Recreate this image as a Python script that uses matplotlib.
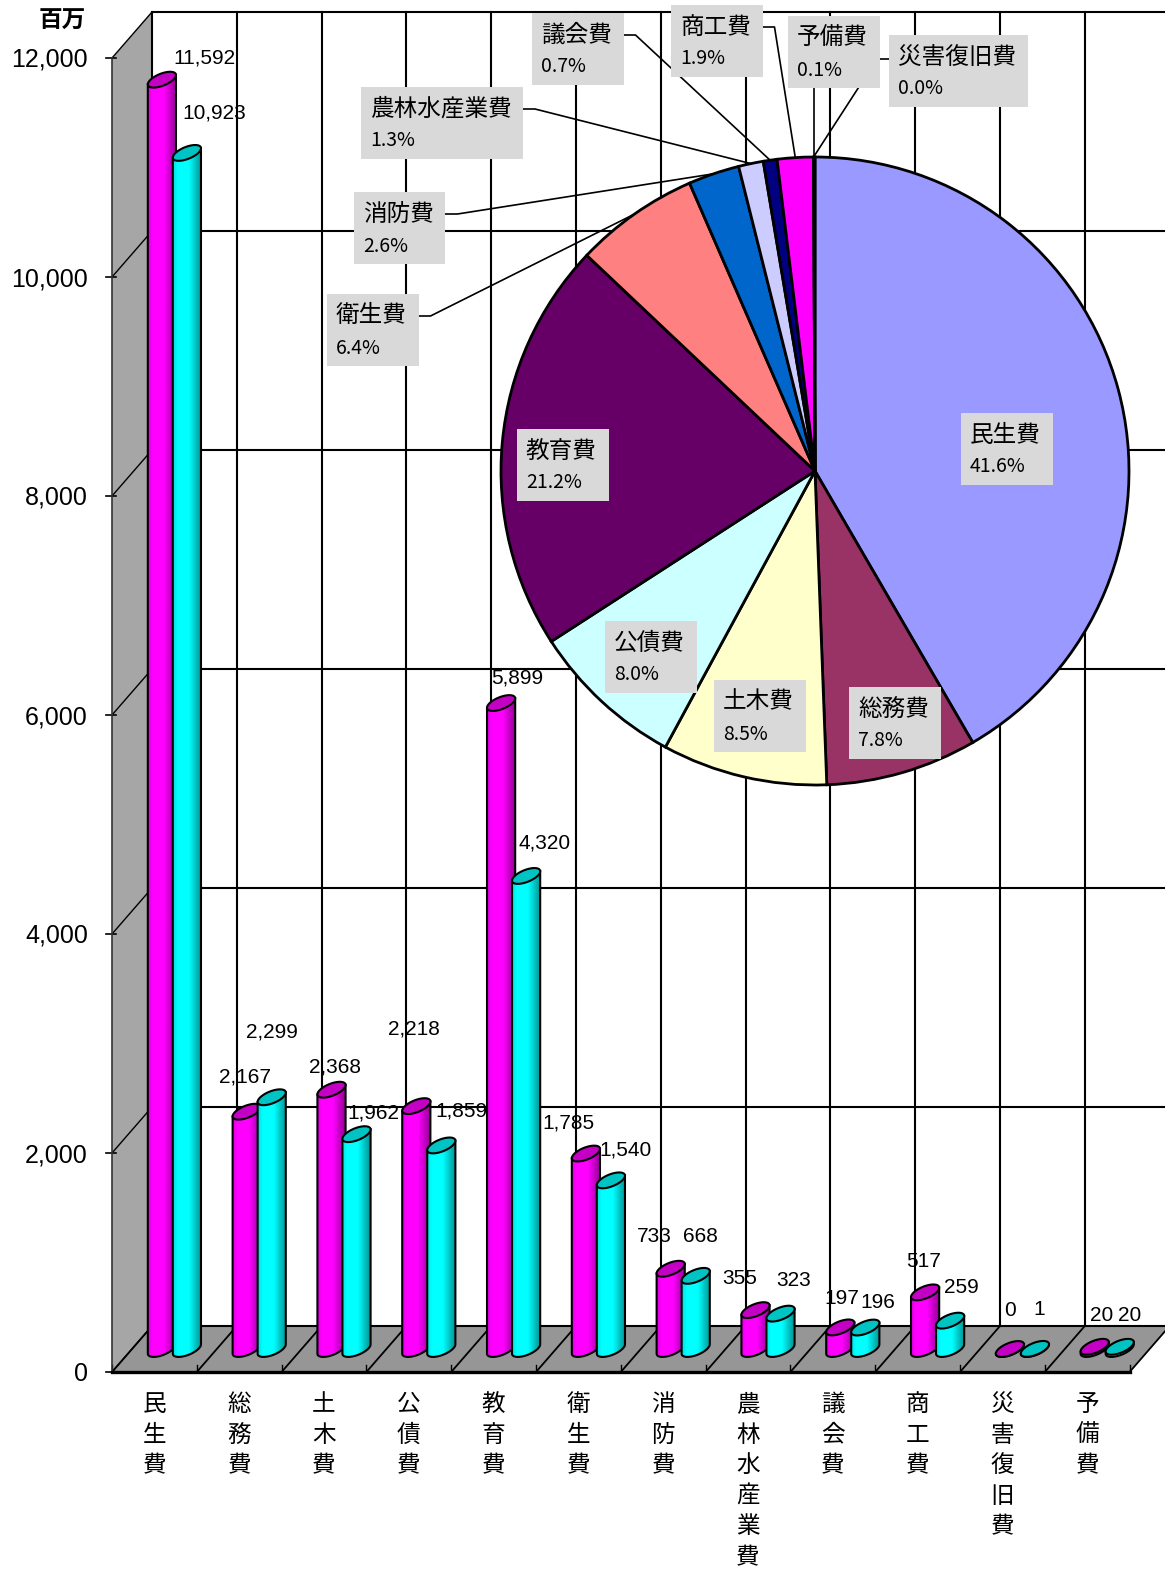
import numpy as np
import matplotlib
matplotlib.use('Agg')
import matplotlib.pyplot as plt
from matplotlib.patches import Polygon, Rectangle
from matplotlib.colors import LinearSegmentedColormap

plt.rcParams['font.family'] = ['Noto Sans CJK JP', 'DejaVu Sans']

# data
categories = ['民生費', '総務費', '土木費', '公債費', '教育費', '衛生費',
              '消防費', '農林水産業費', '議会費', '商工費', '災害復旧費', '予備費']
series_a = [11592, 2167, 2368, 2218, 5899, 1785, 733, 355, 197, 517, 0, 20]
series_b = [10923, 2299, 1962, 1859, 4320, 1540, 668, 323, 196, 259, 1, 20]
y_ticks = [0, 2000, 4000, 6000, 8000, 10000, 12000]
pie_colors = ['#9999ff', '#993366', '#ffffcc', '#ccffff', '#660066', '#ff8080',
              '#0066cc', '#ccccff', '#000080', '#ff00ff', '#ffff00', '#00ffff']

# layout (pixels of the 1165x1573 canvas)
W, H = 1165, 1573
X0, SLOT = 112, 84.8          # front-left corner, px per category
Y0 = 1372                     # front floor line
PXV = (Y0 - 58) / 12000       # px per unit
DEP_X, DEP_Y = 40, 46         # depth shift of back wall
EA, EB, TILT = 15, 6, 22      # cylinder top ellipse
BAR_SHIFT = 12.5

# value label offsets (px, right / down)
off_a = [(43, -22), (-2, -35), (4, -23), (-2, -77), (16, -25), (-17, -31),
         (-16, -32), (-16, -32), (2, -29), (-2, -31), (0, -39), (7, -31)]
off_b = [(27, -40), (0, -65), (17, -21), (20, -34), (18, -33), (15, -30),
         (5, -39), (13, -33), (13, -25), (11, -33), (4, -39), (10, -31)]

# pie label boxes (left, top px) and leader side
pie_lbl_pos = [(961, 413), (849, 687), (714, 680), (605, 621), (517, 429),
               (327, 294), (354, 192), (361, 87), (532, 13), (671, 5),
               (889, 35), (788, 16)]
leader_side = [None, None, None, None, None, 'r', 'r', 'r', 'r', 'r', 'l', 'b']
PCX, PCY, PR = 815, 471, 314


def px2x(px):
    return (px - X0) / SLOT - 0.5


def py2v(py):
    return (Y0 - py) / PXV


DX = DEP_X / SLOT
DV = DEP_Y / PXV

fig = plt.figure(figsize=(W / 100, H / 100), dpi=100)
ax = fig.add_axes([0, 0, 1, 1])
ax.axis('off')

n = len(categories)
top_v = y_ticks[-1]
left, right = -0.5, n - 0.5

# left wall
ax.add_patch(Polygon([(left, 0), (left, top_v), (left + DX, top_v + DV), (left + DX, DV)],
                     closed=True, fc='#a6a6a6', ec='none', zorder=1))
# floor
ax.add_patch(Polygon([(left, 0), (right, 0), (right + DX, DV), (left + DX, DV)],
                     closed=True, fc='#969696', ec='none', zorder=1))

# back wall grid
for v in y_ticks:
    ax.plot([left + DX, right + DX], [v + DV, v + DV], color='black', lw=1.5, zorder=2)
    ax.plot([left, left + DX], [v, v + DV], color='black', lw=1.0, zorder=2)
    ax.plot([left - 6 / SLOT, left + 4 / SLOT], [v, v], color='black', lw=1.2, zorder=2)
for k in range(n + 1):
    xk = left + k
    ax.plot([xk + DX, xk + DX], [DV, top_v + DV], color='black', lw=1.5, zorder=2)
    ax.plot([xk, xk + DX], [0, DV], color='black', lw=1.3, zorder=2)
    ax.plot([xk, xk], [0, 7 / PXV], color='black', lw=1.0, zorder=2)
ax.plot([left, left], [0, top_v], color='#333333', lw=1.2, zorder=2)
ax.plot([left, right], [0, 0], color='black', lw=2.4, zorder=2)

# cylinders
th = np.radians(TILT)
t_r = np.arctan2(-EB * np.sin(th), EA * np.cos(th))


def ell(t):
    ex = EA * np.cos(t) * np.cos(th) - EB * np.sin(t) * np.sin(th)
    ey = EA * np.cos(t) * np.sin(th) + EB * np.sin(t) * np.cos(th)
    return ex / SLOT, ey / PXV


def cylinder(xc, v, cols, top_col, z):
    base = DV / 2
    lx, ly = ell(np.linspace(t_r, t_r - np.pi, 60))
    fx, fy = ell(np.linspace(0, 2 * np.pi, 120))
    pts = [(xc + lx[0], base + v + ly[0])]
    pts += list(zip(xc + lx, base + ly))
    pts += [(xc + lx[-1], base + v + ly[-1])]
    body = Polygon(pts, closed=True, fc='none', ec='black', lw=1.5, zorder=z + 0.02)
    ax.add_patch(body)
    cmap = LinearSegmentedColormap.from_list('g', list(zip([0, 0.15, 0.55, 1.0], cols)))
    grad = np.tile(np.linspace(0, 1, 64), (2, 1))
    im = ax.imshow(grad, extent=(xc + lx.min(), xc + lx.max(), base + ly.min(), base + v + ly.max()),
                   cmap=cmap, aspect='auto', origin='lower', interpolation='bilinear', zorder=z + 0.01)
    im.set_clip_path(body)
    ax.add_patch(Polygon(list(zip(xc + fx, base + v + fy)), closed=True, fc=top_col,
                         ec='black', lw=1.5, zorder=z + 0.03))


mag = ['#e000e0', '#ff00ff', '#ff00ff', '#900090']
cya = ['#00e0e0', '#00ffff', '#00ffff', '#009090']
sh = BAR_SHIFT / SLOT
z = 3
for i in range(n):
    xa = i + DX / 2 - sh
    xb = i + DX / 2 + sh
    cylinder(xa, series_a[i], mag, '#c400c4', z)
    cylinder(xb, series_b[i], cya, '#00c4c4', z + 0.1)
    z += 0.2
    for xc, v, off in ((xa, series_a[i], off_a[i]), (xb, series_b[i], off_b[i])):
        ax.annotate(f'{v:,}', xy=(xc, DV / 2 + v), xytext=(off[0], -off[1]),
                    textcoords='offset pixels', ha='center', va='center',
                    fontsize=15, family='Liberation Sans', zorder=10)

# axis labels
for v in y_ticks:
    ax.annotate(f'{v:,}', xy=(left, v), xytext=(-24, -2), textcoords='offset pixels',
                ha='right', va='center', fontsize=18, family='Liberation Sans')
ax.text(px2x(62), py2v(21), '百万', ha='center', va='center', fontsize=17, fontweight='bold')
for i, c in enumerate(categories):
    ax.text(i, py2v(1393), '\n'.join(c), ha='center', va='top', fontsize=17, linespacing=1.42)

ax.set_xlim(px2x(0), px2x(W))
ax.set_ylim(py2v(H), py2v(0))

# pie
pax = fig.add_axes([(PCX - PR) / W, (H - PCY - PR) / H, 2 * PR / W, 2 * PR / H])
pax.pie(series_a, colors=pie_colors, startangle=90, counterclock=False, radius=1,
        wedgeprops=dict(edgecolor='black', linewidth=2.0))
pax.set_xlim(-1, 1)
pax.set_ylim(-1, 1)
pax.axis('off')


def pp(px, py):
    return (px - PCX) / PR, (PCY - py) / PR


total = sum(series_a)
cum = np.cumsum([0] + series_a)
for i, c in enumerate(categories):
    bx, by = pie_lbl_pos[i]
    bw, bh = 21 + 23.5 * len(c), 72
    u0, w0 = pp(bx, by + bh)
    pax.add_patch(Rectangle((u0, w0), bw / PR, bh / PR, fc='#d9d9d9', ec='none',
                            zorder=4, clip_on=False))
    pax.text(*pp(bx + 9, by + 22), c, ha='left', va='center', fontsize=17, zorder=5, clip_on=False)
    pct = series_a[i] / total * 100
    pax.text(*pp(bx + 9, by + 54), f'{pct:.1f}%', ha='left', va='center', fontsize=14,
             zorder=5, clip_on=False)
    side = leader_side[i]
    if side is None:
        continue
    mid = (cum[i] + cum[i + 1]) / 2 / total
    ang = np.radians(90 - 360 * mid)
    ex, ey = np.cos(ang), np.sin(ang)
    if side == 'r':
        p0, p1 = pp(bx + bw, by + 22), pp(bx + bw + 12, by + 22)
        xs, ys = [p0[0], p1[0], ex], [p0[1], p1[1], ey]
    elif side == 'l':
        p0, p1 = pp(bx, by + 24), pp(bx - 12, by + 24)
        xs, ys = [p0[0], p1[0], ex], [p0[1], p1[1], ey]
    else:
        p0 = (ex, pp(0, by + bh)[1])
        xs, ys = [p0[0], ex], [p0[1], ey]
    pax.plot(xs, ys, color='black', lw=1.2, zorder=3, clip_on=False)

fig.savefig('out.png', dpi=100)
